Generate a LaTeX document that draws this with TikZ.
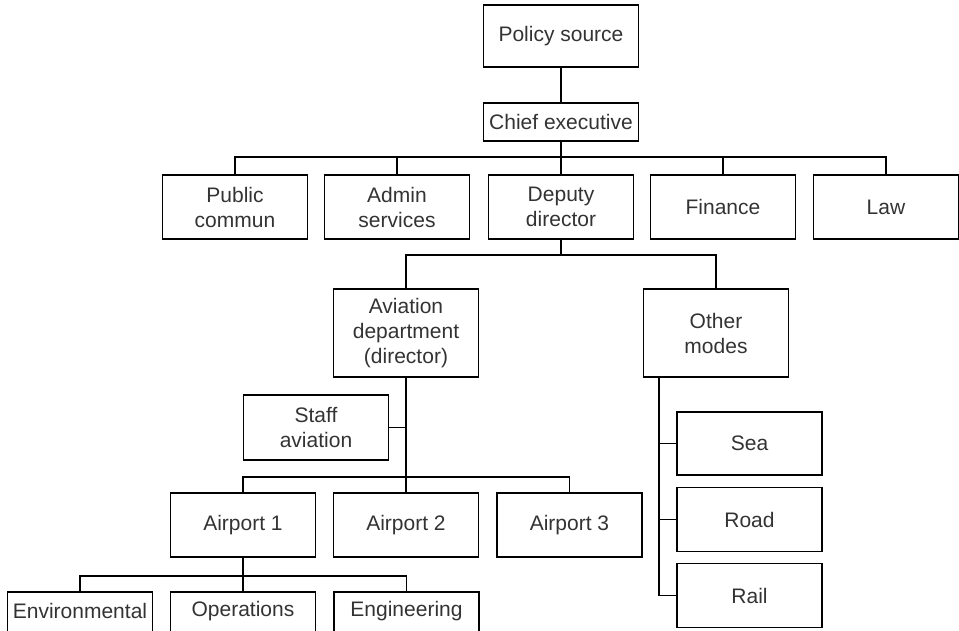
\documentclass[tikz,border=0pt]{standalone}
\usepackage{fontspec}
\setmainfont{Liberation Sans}
\begin{document}
\begin{tikzpicture}[x=1pt,y=-1pt,
  lbl/.style={text=black!80, font=\fontsize{21}{25}\selectfont},
  box/.style={draw=black, line width=1.5pt, rectangle, inner sep=0pt, align=center,
    minimum width=145pt, minimum height=64pt, lbl},
  conn/.style={draw=black, line width=1.5pt}]
\useasboundingbox (0,0) rectangle (959,630);
\clip (0,0) rectangle (959,630);
% top
\node[box, minimum width=155pt, minimum height=62pt] (pol) at (561,36) {Policy source};
\node[box, minimum width=155pt, minimum height=38pt] (chief) at (561,122) {Chief executive};
% second row
\node[box] (pub) at (235,207) {Public\\commun};
\node[box] (adm) at (397,207) {Admin\\services};
\node[box] (dep) at (561,207) {Deputy\\director};
\node[box] (fin) at (723,207) {Finance};
\node[box] (law) at (886,207) {Law};
% third row
\node[box, minimum height=88pt] (avi) at (406,333) {Aviation\\department\\(director)};
\node[box, minimum height=88pt] (oth) at (716,333) {Other\\modes};
\node[box, minimum height=65pt] (staff) at (316,427.5) {Staff\\aviation};
% airports
\node[box] (ap1) at (243,525) {Airport 1};
\node[box] (ap2) at (406,525) {Airport 2};
\node[box] (ap3) at (569.5,525) {Airport 3};
% other modes children
\node[box, minimum height=63pt] (sea) at (749.5,443.5) {Sea};
\node[box] (road) at (749.5,519.5) {Road};
\node[box] (rail) at (749.5,595.5) {Rail};
% airport 1 children (cut by the lower edge)
\node[box, minimum height=76pt] (env) at (80,630) {};
\node[box, minimum height=76pt] (ops) at (243,630) {};
\node[box, minimum height=76pt] (eng) at (406.5,630) {};
\node[lbl] (envt) at (80,611) {Environmental};
\node[lbl] (opst) at (243,611) {Operations};
\node[lbl] (engt) at (406.5,611) {Engineering};
% bus coordinates
\coordinate (b1) at (561,157);
\coordinate (b2) at (561,255);
\coordinate (b3) at (406,477);
\coordinate (b4) at (243,576);
\coordinate (tt) at (659,377);
% connectors
\draw[conn] (pol) -- (chief);
\draw[conn] (chief.south) -- (b1);
\draw[conn] (pub.north) |- (b1) -| (law.north);
\draw[conn] (adm.north) -- (adm.north |- b1);
\draw[conn] (fin.north) -- (fin.north |- b1);
\draw[conn] (b1) -- (dep.north);
\draw[conn] (dep.south) -- (b2);
\draw[conn] (avi.north) |- (b2) -| (oth.north);
\draw[conn] (avi.south) -- (b3);
\draw[conn] (staff.east) -- (staff.east -| avi.south);
\draw[conn] (ap1.north) |- (b3) -| (ap3.north);
\draw[conn] (b3) -- (ap2.north);
\draw[conn] (ap1.south) -- (b4);
\draw[conn] (env.north) |- (b4) -| (eng.north);
\draw[conn] (b4) -- (ops.north);
\draw[conn] (tt) |- (rail.west);
\draw[conn] (sea.west) -- (sea.west -| tt);
\draw[conn] (road.west) -- (road.west -| tt);
\end{tikzpicture}
\end{document}
